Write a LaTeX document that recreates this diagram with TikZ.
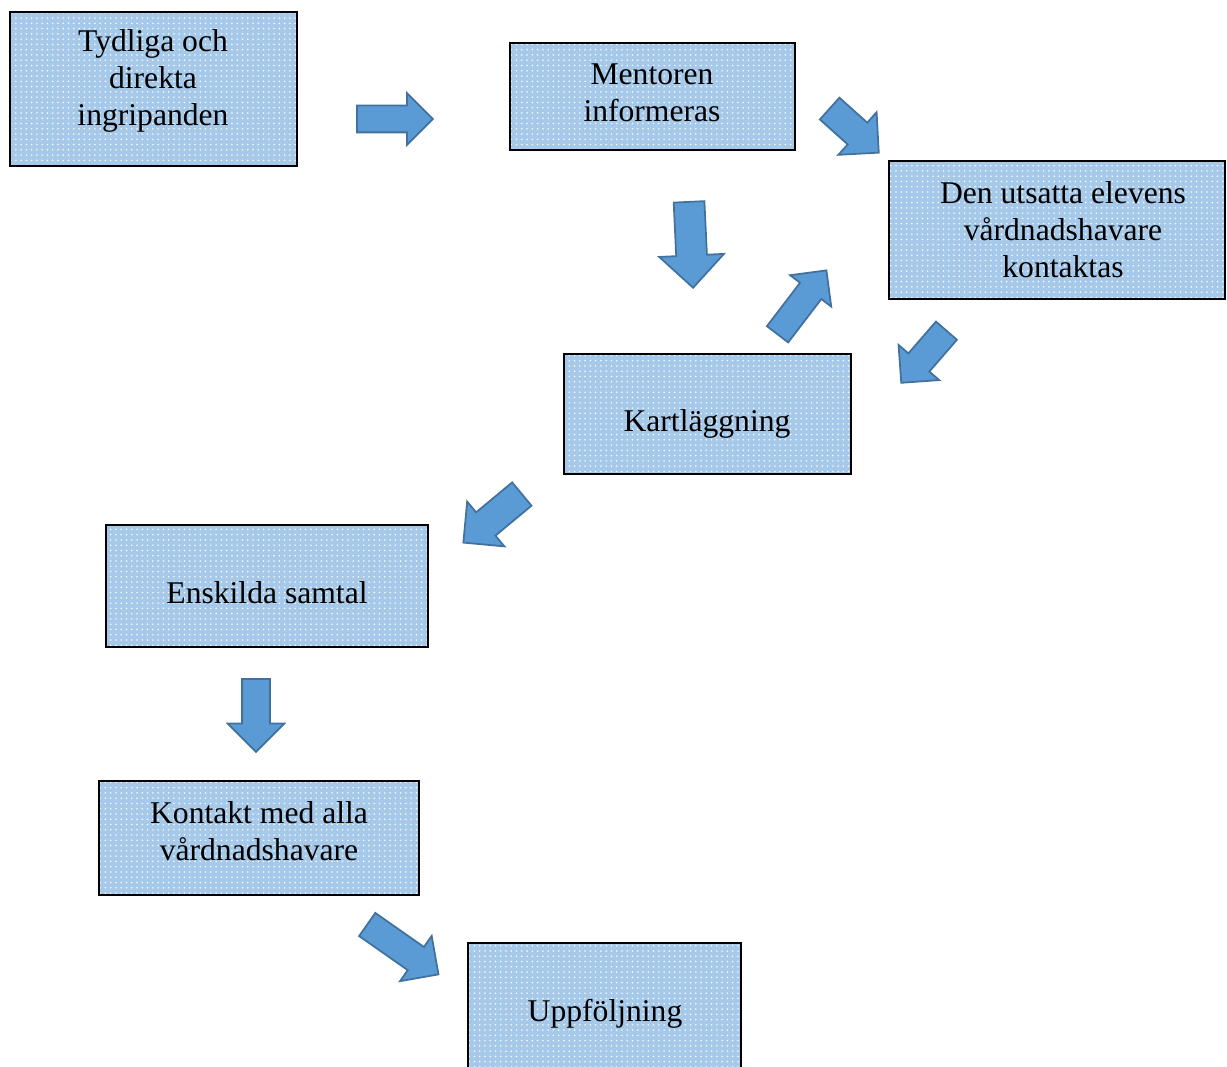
\documentclass[tikz,border=0pt]{standalone}
\usepackage{fontspec}
\setmainfont{Liberation Serif}
\usepackage{xcolor}
\definecolor{boxblue}{HTML}{A6C9EA}
\definecolor{arrfill}{HTML}{5B9BD5}
\definecolor{arrline}{HTML}{41719C}
\usepackage{tikz}
\usetikzlibrary{positioning,shapes.arrows,patterns}

\begin{document}
\begin{tikzpicture}[x=0.02cm, y=-0.02cm,
  box/.style={rectangle, draw=black, line width=1pt, preaction={fill=boxblue},
              pattern=dots, pattern color=white!90!boxblue, inner sep=0pt},
  txt/.style={font=\fontsize{18}{21}\selectfont, align=center, inner sep=0pt},
  blockarrow/.style={single arrow, draw=arrline, fill=arrfill, line width=1pt,
              single arrow tip angle=90, inner xsep=0pt, anchor=tail}
]
\useasboundingbox (0,0) rectangle (1227,1067);

\node[box, minimum width=5.74cm, minimum height=3.08cm] (tydliga) at (153.5,89) {};
\node[box, minimum width=5.70cm, minimum height=2.14cm] (mentor) at (652.5,96.5) {};
\node[box, minimum width=6.72cm, minimum height=2.76cm] (vardnad) at (1057,230) {};
\node[box, minimum width=5.74cm, minimum height=2.40cm] (kart) at (707.5,414) {};
\node[box, minimum width=6.44cm, minimum height=2.44cm] (samtal) at (267,586) {};
\node[box, minimum width=6.40cm, minimum height=2.28cm] (kontakt) at (259,838) {};
\node[box, minimum width=5.46cm, minimum height=3.00cm] (uppf) at (604.5,1018) {};

\node[txt] (tydliga-t) at (153,81) {Tydliga och\\direkta\\ingripanden};
\node[txt] (mentor-t) at (652,93) {Mentoren\\informeras};
\node[txt] (vardnad-t) at (1063,230) {Den utsatta elevens\\vårdnadshavare\\kontaktas};
\node[txt] (kart-t) at (707,424) {Kartläggning};
\node[txt] (samtal-t) at (267,593) {Enskilda samtal};
\node[txt] (kontakt-t) at (259,831) {Kontakt med alla\\vårdnadshavare};
\node[txt] (uppf-t) at (605,1014) {Uppföljning};

\node[blockarrow, minimum height=1.52cm, inner ysep=0.25cm, single arrow head extend=0.25cm] (pil1) at (356,119) {};
\node[blockarrow, rotate=-87.3, minimum height=1.72cm, inner ysep=0.29cm, single arrow head extend=0.34cm] (pil2) at (689,201) {};
\node[blockarrow, rotate=-41.9, minimum height=1.32cm, inner ysep=0.275cm, single arrow head extend=0.28cm] (pil3) at (829,108) {};
\node[blockarrow, rotate=52.6, minimum height=1.61cm, inner ysep=0.25cm, single arrow head extend=0.25cm] (pil4) at (777,335) {};
\node[blockarrow, rotate=-130.9, minimum height=1.38cm, inner ysep=0.26cm, single arrow head extend=0.26cm] (pil5) at (947,330) {};
\node[blockarrow, rotate=219.7, minimum height=1.52cm, inner ysep=0.285cm, single arrow head extend=0.28cm] (pil6) at (522.5,493.5) {};
\node[blockarrow, rotate=-90, minimum height=1.46cm, inner ysep=0.26cm, single arrow head extend=0.29cm] (pil7) at (256,678) {};
\node[blockarrow, rotate=-35, minimum height=1.74cm, inner ysep=0.265cm, single arrow head extend=0.27cm] (pil8) at (366.5,924) {};
\end{tikzpicture}
\end{document}
